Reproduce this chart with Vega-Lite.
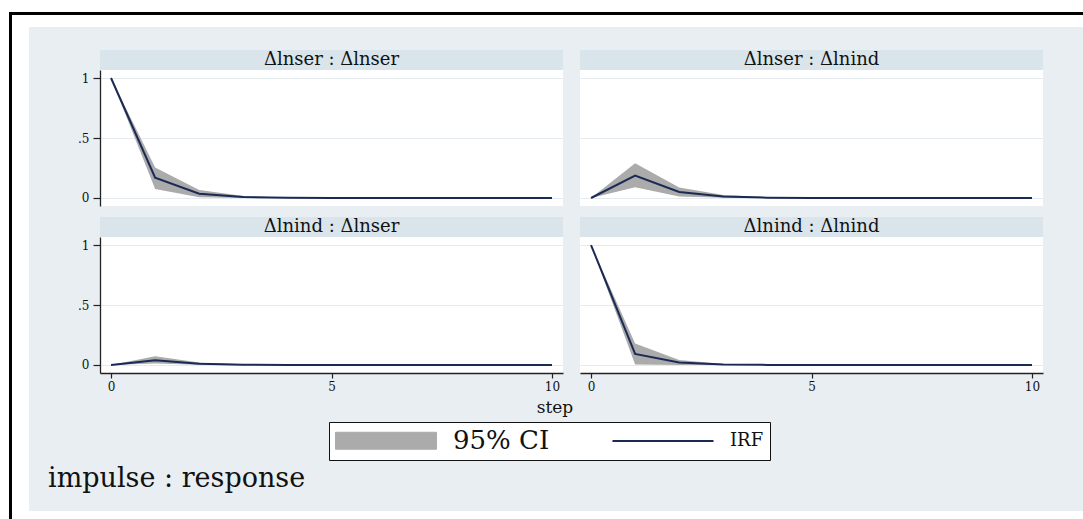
{
"$schema": "https://vega.github.io/schema/vega-lite/v6.json",
"background": "#e8eef1",
"padding": 0,
"config": {
  "view": {"stroke": null},
  "font": "DejaVu Serif",
  "axis": {"domainColor": "#222", "tickColor": "#222", "labelColor": "#111", "labelFont": "DejaVu Serif", "labelFontSize": 12, "gridColor": "#e4eaee", "gridWidth": 1},
  "legend": {"labelFont": "DejaVu Serif"}
},
"datasets": {
  "irf": [
    {"panel": "Δlnser : Δlnser", "step": 0, "irf": 1, "lo": 1, "hi": 1},
    {"panel": "Δlnser : Δlnser", "step": 1, "irf": 0.17, "lo": 0.075, "hi": 0.255},
    {"panel": "Δlnser : Δlnser", "step": 2, "irf": 0.036, "lo": 0.006, "hi": 0.067},
    {"panel": "Δlnser : Δlnser", "step": 3, "irf": 0.008, "lo": 0.001, "hi": 0.016},
    {"panel": "Δlnser : Δlnser", "step": 4, "irf": 0.002, "lo": 0, "hi": 0.004},
    {"panel": "Δlnser : Δlnser", "step": 5, "irf": 0.0005, "lo": 0, "hi": 0.001},
    {"panel": "Δlnser : Δlnser", "step": 6, "irf": 0, "lo": 0, "hi": 0},
    {"panel": "Δlnser : Δlnser", "step": 7, "irf": 0, "lo": 0, "hi": 0},
    {"panel": "Δlnser : Δlnser", "step": 8, "irf": 0, "lo": 0, "hi": 0},
    {"panel": "Δlnser : Δlnser", "step": 9, "irf": 0, "lo": 0, "hi": 0},
    {"panel": "Δlnser : Δlnser", "step": 10, "irf": 0, "lo": 0, "hi": 0},
    {"panel": "Δlnser : Δlnind", "step": 0, "irf": 0, "lo": 0, "hi": 0},
    {"panel": "Δlnser : Δlnind", "step": 1, "irf": 0.187, "lo": 0.089, "hi": 0.289},
    {"panel": "Δlnser : Δlnind", "step": 2, "irf": 0.05, "lo": 0.013, "hi": 0.088},
    {"panel": "Δlnser : Δlnind", "step": 3, "irf": 0.013, "lo": 0.002, "hi": 0.025},
    {"panel": "Δlnser : Δlnind", "step": 4, "irf": 0.003, "lo": 0, "hi": 0.007},
    {"panel": "Δlnser : Δlnind", "step": 5, "irf": 0.001, "lo": 0, "hi": 0.002},
    {"panel": "Δlnser : Δlnind", "step": 6, "irf": 0, "lo": 0, "hi": 0},
    {"panel": "Δlnser : Δlnind", "step": 7, "irf": 0, "lo": 0, "hi": 0},
    {"panel": "Δlnser : Δlnind", "step": 8, "irf": 0, "lo": 0, "hi": 0},
    {"panel": "Δlnser : Δlnind", "step": 9, "irf": 0, "lo": 0, "hi": 0},
    {"panel": "Δlnser : Δlnind", "step": 10, "irf": 0, "lo": 0, "hi": 0},
    {"panel": "Δlnind : Δlnser", "step": 0, "irf": 0, "lo": 0, "hi": 0},
    {"panel": "Δlnind : Δlnser", "step": 1, "irf": 0.04, "lo": 0.012, "hi": 0.072},
    {"panel": "Δlnind : Δlnser", "step": 2, "irf": 0.011, "lo": 0.002, "hi": 0.02},
    {"panel": "Δlnind : Δlnser", "step": 3, "irf": 0.003, "lo": 0, "hi": 0.006},
    {"panel": "Δlnind : Δlnser", "step": 4, "irf": 0.001, "lo": 0, "hi": 0.002},
    {"panel": "Δlnind : Δlnser", "step": 5, "irf": 0, "lo": 0, "hi": 0},
    {"panel": "Δlnind : Δlnser", "step": 6, "irf": 0, "lo": 0, "hi": 0},
    {"panel": "Δlnind : Δlnser", "step": 7, "irf": 0, "lo": 0, "hi": 0},
    {"panel": "Δlnind : Δlnser", "step": 8, "irf": 0, "lo": 0, "hi": 0},
    {"panel": "Δlnind : Δlnser", "step": 9, "irf": 0, "lo": 0, "hi": 0},
    {"panel": "Δlnind : Δlnser", "step": 10, "irf": 0, "lo": 0, "hi": 0},
    {"panel": "Δlnind : Δlnind", "step": 0, "irf": 1, "lo": 1, "hi": 1},
    {"panel": "Δlnind : Δlnind", "step": 1, "irf": 0.092, "lo": 0.005, "hi": 0.18},
    {"panel": "Δlnind : Δlnind", "step": 2, "irf": 0.02, "lo": 0, "hi": 0.042},
    {"panel": "Δlnind : Δlnind", "step": 3, "irf": 0.004, "lo": 0, "hi": 0.009},
    {"panel": "Δlnind : Δlnind", "step": 4, "irf": 0.001, "lo": 0, "hi": 0.002},
    {"panel": "Δlnind : Δlnind", "step": 5, "irf": 0, "lo": 0, "hi": 0},
    {"panel": "Δlnind : Δlnind", "step": 6, "irf": 0, "lo": 0, "hi": 0},
    {"panel": "Δlnind : Δlnind", "step": 7, "irf": 0, "lo": 0, "hi": 0},
    {"panel": "Δlnind : Δlnind", "step": 8, "irf": 0, "lo": 0, "hi": 0},
    {"panel": "Δlnind : Δlnind", "step": 9, "irf": 0, "lo": 0, "hi": 0},
    {"panel": "Δlnind : Δlnind", "step": 10, "irf": 0, "lo": 0, "hi": 0}
  ]
},
"spacing": 0,
"hconcat": [
  {"spacing": 0, "hconcat": [
    {"width": 9, "height": 519, "view": {"fill": "white"}, "data": {"values": []}, "mark": "point", "encoding": {}},
    {"spacing": 0, "vconcat": [
      {"width": 3, "height": 12, "view": {"fill": "white"}, "data": {"values": []}, "mark": "point", "encoding": {}},
      {"width": 3, "height": 507, "view": {"fill": "black"}, "data": {"values": []}, "mark": "point", "encoding": {}}
    ]},
    {"spacing": 0, "vconcat": [
      {"width": 17, "height": 12, "view": {"fill": "white"}, "data": {"values": []}, "mark": "point", "encoding": {}},
      {"width": 17, "height": 3, "view": {"fill": "black"}, "data": {"values": []}, "mark": "point", "encoding": {}},
      {"width": 17, "height": 504, "view": {"fill": "white"}, "data": {"values": []}, "mark": "point", "encoding": {}}
    ]}
  ]},
  {"spacing": 0, "vconcat": [
    {"width": 1054, "height": 12, "view": {"fill": "white"}, "data": {"values": []}, "mark": "point", "encoding": {}},
    {"width": 1054, "height": 3, "view": {"fill": "black"}, "data": {"values": []}, "mark": "point", "encoding": {}},
    {"width": 1054, "height": 12, "view": {"fill": "white"}, "data": {"values": []}, "mark": "point", "encoding": {}},
    {"spacing": 0, "vconcat": [
      {"width": 1052, "height": 23, "data": {"values": []}, "mark": "point", "encoding": {}},
      {"columns": 4, "spacing": 0, "bounds": "flush", "concat": [
        {"width": 71, "height": 20, "data": {"values": []}, "mark": "point", "encoding": {}},
        {"width": 463, "height": 20, "view": {"fill": "#d9e4eb"}, "data": {"name": "irf"}, "transform": [{"filter": "datum.panel === 'Δlnser : Δlnser' && datum.step === 0"}], "mark": {"type": "text", "fontSize": 18, "color": "#111"}, "encoding": {"text": {"field": "panel"}}},
        {"width": 17, "height": 20, "data": {"values": []}, "mark": "point", "encoding": {}},
        {"width": 463, "height": 20, "view": {"fill": "#d9e4eb"}, "data": {"name": "irf"}, "transform": [{"filter": "datum.panel === 'Δlnser : Δlnind' && datum.step === 0"}], "mark": {"type": "text", "fontSize": 18, "color": "#111"}, "encoding": {"text": {"field": "panel"}}},

        {"width": 71, "height": 136, "data": {"values": []}, "mark": "point", "encoding": {}},
        {"width": 463, "height": 136, "view": {"fill": "white"}, "data": {"name": "irf"},
         "transform": [{"filter": "datum.panel === 'Δlnser : Δlnser'"}],
         "encoding": {"x": {"field": "step", "type": "quantitative", "scale": {"domain": [-0.25, 10.25], "nice": false, "zero": false}, "axis": null}},
         "layer": [
           {"mark": {"type": "area", "opacity": 1}, "encoding": {
             "y": {"field": "lo", "type": "quantitative", "scale": {"domain": [-0.0667, 1.0667], "nice": false, "zero": false},
                   "axis": {"values": [0, 0.5, 1], "labelExpr": "datum.value === 0.5 ? '.5' : (datum.value === 1 ? '1' : '0')", "title": null, "grid": true, "domain": true, "domainWidth": 1.3, "ticks": true, "tickSize": 7, "tickWidth": 1.2, "labelPadding": 4}},
             "y2": {"field": "hi"},
             "color": {"datum": "95% CI", "scale": {"domain": ["95% CI", "IRF"], "range": ["#ababab", "#1b2a55"]},
               "legend": {"orient": "none", "legendX": 329, "legendY": 422, "direction": "horizontal", "title": null,
                 "fillColor": "white", "strokeColor": "#111", "padding": 6, "symbolSize": 10201, "clipHeight": 25, "labelOffset": 16, "columnPadding": 62,
                 "labelFontSize": 26, "labelColor": "#111",
                 "encoding": {
                   "symbols": {
                     "shape": {"value": {"expr": "(datum.value === 'IRF' ? 'stroke' : 'M-1,-0.168L1,-0.168L1,0.168L-1,0.168Z')"}},
                     "stroke": {"value": {"expr": "(datum.value === 'IRF' ? '#1b2a55' : '#939393')"}},
                     "strokeWidth": {"value": {"expr": "(datum.value === 'IRF' ? 2 : 1)"}}},
                   "labels": {"fontSize": {"value": {"expr": "(datum.value === 'IRF' ? 18 : 26)"}}}
                 }}}}},
           {"mark": {"type": "line", "strokeWidth": 2}, "encoding": {
             "y": {"field": "irf", "type": "quantitative", "scale": {"domain": [-0.0667, 1.0667], "nice": false, "zero": false},
                   "axis": {"values": [0, 0.5, 1], "labelExpr": "datum.value === 0.5 ? '.5' : (datum.value === 1 ? '1' : '0')", "title": null, "grid": true, "domain": true, "domainWidth": 1.3, "ticks": true, "tickSize": 7, "tickWidth": 1.2, "labelPadding": 4}},
             "color": {"datum": "IRF"}}}
         ]},
        {"width": 17, "height": 136, "data": {"values": []}, "mark": "point", "encoding": {}},
        {"width": 463, "height": 136, "view": {"fill": "white"}, "data": {"name": "irf"},
         "transform": [{"filter": "datum.panel === 'Δlnser : Δlnind'"}],
         "encoding": {"x": {"field": "step", "type": "quantitative", "scale": {"domain": [-0.25, 10.25], "nice": false, "zero": false}, "axis": null}},
         "layer": [
           {"mark": {"type": "area", "opacity": 1}, "encoding": {
             "y": {"field": "lo", "type": "quantitative", "scale": {"domain": [-0.0667, 1.0667], "nice": false, "zero": false},
                   "axis": {"values": [0, 0.5, 1], "title": null, "grid": true, "domain": false, "ticks": false, "labels": false}},
             "y2": {"field": "hi"},
             "color": {"datum": "95% CI"}}},
           {"mark": {"type": "line", "strokeWidth": 2}, "encoding": {
             "y": {"field": "irf", "type": "quantitative", "scale": {"domain": [-0.0667, 1.0667], "nice": false, "zero": false},
                   "axis": {"values": [0, 0.5, 1], "title": null, "grid": true, "domain": false, "ticks": false, "labels": false}},
             "color": {"datum": "IRF"}}}
         ]},

        {"width": 71, "height": 11, "data": {"values": []}, "mark": "point", "encoding": {}},
        {"width": 463, "height": 11, "data": {"values": []}, "mark": "point", "encoding": {}},
        {"width": 17, "height": 11, "data": {"values": []}, "mark": "point", "encoding": {}},
        {"width": 463, "height": 11, "data": {"values": []}, "mark": "point", "encoding": {}},

        {"width": 71, "height": 20, "data": {"values": []}, "mark": "point", "encoding": {}},
        {"width": 463, "height": 20, "view": {"fill": "#d9e4eb"}, "data": {"name": "irf"}, "transform": [{"filter": "datum.panel === 'Δlnind : Δlnser' && datum.step === 0"}], "mark": {"type": "text", "fontSize": 18, "color": "#111"}, "encoding": {"text": {"field": "panel"}}},
        {"width": 17, "height": 20, "data": {"values": []}, "mark": "point", "encoding": {}},
        {"width": 463, "height": 20, "view": {"fill": "#d9e4eb"}, "data": {"name": "irf"}, "transform": [{"filter": "datum.panel === 'Δlnind : Δlnind' && datum.step === 0"}], "mark": {"type": "text", "fontSize": 18, "color": "#111"}, "encoding": {"text": {"field": "panel"}}},

        {"width": 71, "height": 136, "data": {"values": []}, "mark": "point", "encoding": {}},
        {"width": 463, "height": 136, "view": {"fill": "white"}, "data": {"name": "irf"},
         "transform": [{"filter": "datum.panel === 'Δlnind : Δlnser'"}],
         "encoding": {"x": {"field": "step", "type": "quantitative", "scale": {"domain": [-0.25, 10.25], "nice": false, "zero": false},
           "axis": {"values": [0, 5, 10], "title": null, "grid": false, "domain": true, "domainWidth": 1.3, "tickSize": 5, "tickWidth": 1.2, "labelPadding": 3, "labelFlush": false}}},
         "layer": [
           {"mark": {"type": "area", "opacity": 1}, "encoding": {
             "y": {"field": "lo", "type": "quantitative", "scale": {"domain": [-0.0667, 1.0667], "nice": false, "zero": false},
                   "axis": {"values": [0, 0.5, 1], "labelExpr": "datum.value === 0.5 ? '.5' : (datum.value === 1 ? '1' : '0')", "title": null, "grid": true, "domain": true, "domainWidth": 1.3, "ticks": true, "tickSize": 7, "tickWidth": 1.2, "labelPadding": 4}},
             "y2": {"field": "hi"},
             "color": {"datum": "95% CI"}}},
           {"mark": {"type": "line", "strokeWidth": 2}, "encoding": {
             "y": {"field": "irf", "type": "quantitative", "scale": {"domain": [-0.0667, 1.0667], "nice": false, "zero": false},
                   "axis": {"values": [0, 0.5, 1], "labelExpr": "datum.value === 0.5 ? '.5' : (datum.value === 1 ? '1' : '0')", "title": null, "grid": true, "domain": true, "domainWidth": 1.3, "ticks": true, "tickSize": 7, "tickWidth": 1.2, "labelPadding": 4}},
             "color": {"datum": "IRF"}}}
         ]},
        {"width": 17, "height": 136, "data": {"values": []}, "mark": "point", "encoding": {}},
        {"width": 463, "height": 136, "view": {"fill": "white"}, "data": {"name": "irf"},
         "transform": [{"filter": "datum.panel === 'Δlnind : Δlnind'"}],
         "encoding": {"x": {"field": "step", "type": "quantitative", "scale": {"domain": [-0.25, 10.25], "nice": false, "zero": false},
           "axis": {"values": [0, 5, 10], "title": null, "grid": false, "domain": true, "domainWidth": 1.3, "tickSize": 5, "tickWidth": 1.2, "labelPadding": 3, "labelFlush": false}}},
         "layer": [
           {"mark": {"type": "area", "opacity": 1}, "encoding": {
             "y": {"field": "lo", "type": "quantitative", "scale": {"domain": [-0.0667, 1.0667], "nice": false, "zero": false},
                   "axis": {"values": [0, 0.5, 1], "title": null, "grid": true, "domain": false, "ticks": false, "labels": false}},
             "y2": {"field": "hi"},
             "color": {"datum": "95% CI"}}},
           {"mark": {"type": "line", "strokeWidth": 2}, "encoding": {
             "y": {"field": "irf", "type": "quantitative", "scale": {"domain": [-0.0667, 1.0667], "nice": false, "zero": false},
                   "axis": {"values": [0, 0.5, 1], "title": null, "grid": true, "domain": false, "ticks": false, "labels": false}},
             "color": {"datum": "IRF"}}}
         ]}
      ]},
      {"width": 1052, "height": 6, "data": {"values": []}, "mark": "point", "encoding": {}},
      {"width": 1052, "height": 20, "data": {"values": [{"label": "step"}]}, "mark": {"type": "text", "fontSize": 17, "color": "#111"}, "encoding": {"text": {"field": "label"}}},
      {"width": 1052, "height": 46, "data": {"values": []}, "mark": "point", "encoding": {}},
      {"width": 38, "height": 30, "data": {"values": [{"label": "impulse : response"}]}, "mark": {"type": "text", "fontSize": 27, "align": "left", "color": "#111"}, "encoding": {"text": {"field": "label"}}},
      {"width": 1052, "height": 17, "data": {"values": []}, "mark": "point", "encoding": {}}
    ]},
    {"width": 1054, "height": 8, "view": {"fill": "white"}, "data": {"values": []}, "mark": "point", "encoding": {}}
  ]}
]
}
